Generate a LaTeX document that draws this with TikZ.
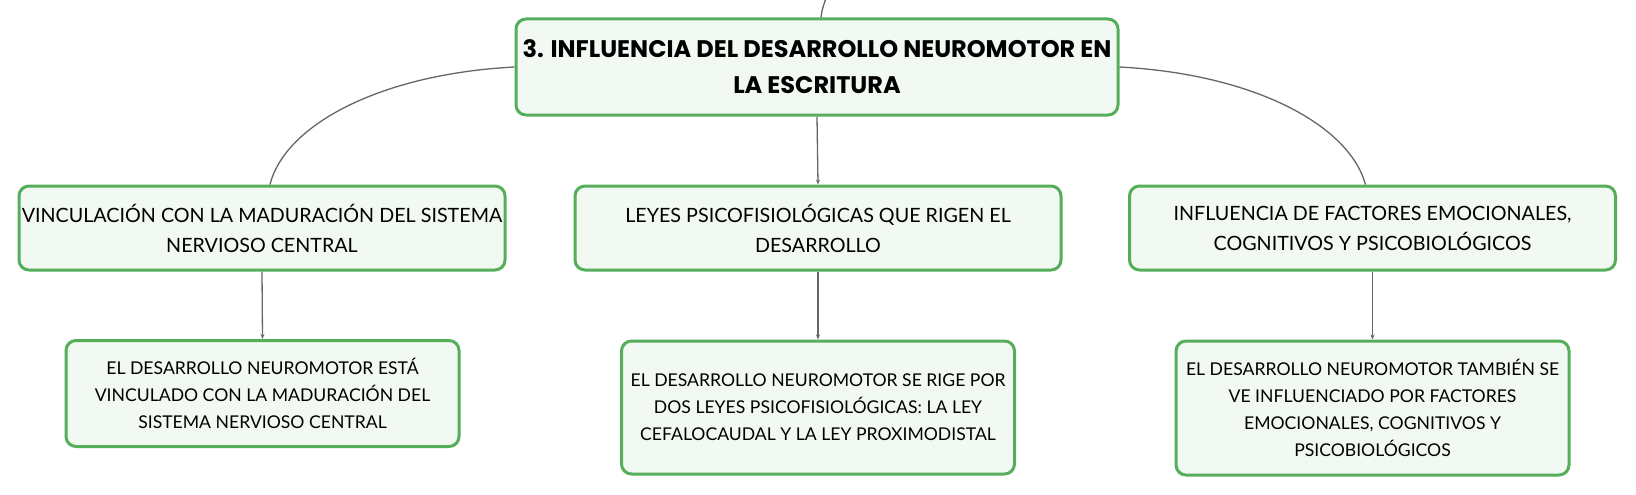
\documentclass[tikz,border=0pt]{standalone}
\usepackage{fontspec}
\setmainfont{Lato}
\newfontfamily\rootfont{Poppins}
\usetikzlibrary{arrows.meta}
\definecolor{boxgreen}{HTML}{55AE5A}
\definecolor{boxfill}{HTML}{F2F9F3}
\definecolor{linkgray}{HTML}{666666}
\tikzset{
  box/.style={draw=boxgreen, line width=3pt, fill=boxfill, rounded corners=10pt,
    inner sep=0pt, align=center, text=black},
  rootbox/.style={box, font=\rootfont\bfseries\fontsize{24}{36}\selectfont},
  midbox/.style={box, font=\fontsize{19.7}{30}\selectfont},
  leafbox/.style={box, font=\fontsize{17.6}{27}\selectfont},
  link/.style={draw=linkgray, line width=1.3pt},
  arrowlink/.style={link, -{Stealth[length=5pt,width=4pt]}}
}
\begin{document}
\begin{tikzpicture}[x=1pt,y=-1pt]
\useasboundingbox (0,0) rectangle (1636,495);
\node[rootbox, minimum width=602, minimum height=96] (root) at (817,67)
  {3. INFLUENCIA DEL DESARROLLO NEUROMOTOR EN\\LA ESCRITURA};
\node[midbox, minimum width=486, minimum height=84] (l1) at (262,228)
  {VINCULACIÓN CON LA MADURACIÓN DEL SISTEMA\\NERVIOSO CENTRAL};
\node[midbox, minimum width=486, minimum height=84] (m1) at (818,228)
  {LEYES PSICOFISIOLÓGICAS QUE RIGEN EL\\DESARROLLO};
\node[midbox, minimum width=486, minimum height=84] (r1) at (1372.5,228)
  {INFLUENCIA DE FACTORES EMOCIONALES,\\COGNITIVOS Y PSICOBIOLÓGICOS};
\node[leafbox, minimum width=393, minimum height=106] (l2) at (262.5,393.5)
  {EL DESARROLLO NEUROMOTOR ESTÁ\\VINCULADO CON LA MADURACIÓN DEL\\SISTEMA NERVIOSO CENTRAL};
\node[leafbox, minimum width=393, minimum height=133] (m2) at (818,407.5)
  {EL DESARROLLO NEUROMOTOR SE RIGE POR\\DOS LEYES PSICOFISIOLÓGICAS: LA LEY\\CEFALOCAUDAL Y LA LEY PROXIMODISTAL};
\node[leafbox, minimum width=393, minimum height=134] (r2) at (1372.5,408)
  {EL DESARROLLO NEUROMOTOR TAMBIÉN SE\\VE INFLUENCIADO POR FACTORES\\EMOCIONALES, COGNITIVOS Y\\PSICOBIOLÓGICOS};
\coordinate (up) at (826,-2);
\draw[link] ([xshift=4pt]root.north) .. controls (822,10) .. (up);
\draw[link] (root.west) .. controls (380,74) and (285,125) .. ([xshift=8pt]l1.north);
\draw[link] (root.east) .. controls (1254,74) and (1349,125) .. ([xshift=-7pt]r1.north);
\draw[arrowlink] (root.south) -- (m1.north);
\draw[arrowlink] (l1.south) -- (l2.north);
\draw[arrowlink] (m1.south) -- (m2.north);
\draw[arrowlink] (r1.south) -- (r2.north);
\end{tikzpicture}
\end{document}
